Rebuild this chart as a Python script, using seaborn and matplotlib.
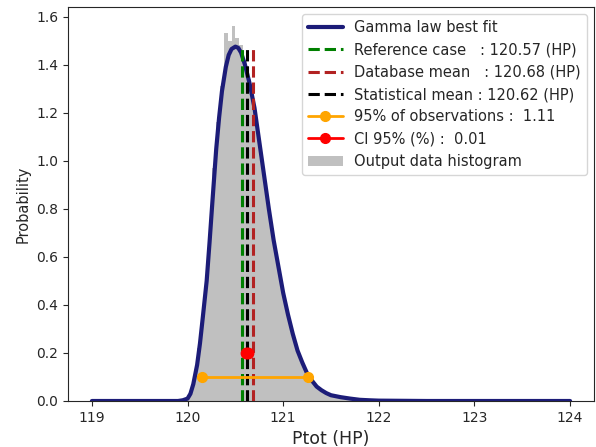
import numpy as np
import pandas as pd
import matplotlib
matplotlib.use("Agg")
import matplotlib.pyplot as plt
import seaborn as sns
from matplotlib.lines import Line2D
from matplotlib.patches import Patch

# ---- data ----
# gamma-law best fit curve (x in HP, probability density)
fit_x = [119.0, 119.5, 119.9, 119.95, 120.0, 120.03, 120.06, 120.1, 120.13, 120.16,
         120.2, 120.23, 120.26, 120.3, 120.33, 120.36, 120.4, 120.43, 120.46, 120.5,
         120.53, 120.56, 120.6, 120.65, 120.7, 120.75,
         120.8, 120.85, 120.9, 120.95, 121.0, 121.05, 121.1, 121.15, 121.2, 121.25,
         121.3, 121.35, 121.4, 121.45, 121.5, 121.6, 121.7, 121.8, 121.9, 122.0,
         122.5, 123.0, 124.0]
fit_p = [0.0, 0.0, 0.0, 0.003, 0.01, 0.03, 0.07, 0.15, 0.24, 0.35,
         0.50, 0.66, 0.83, 1.05, 1.18, 1.29, 1.39, 1.44, 1.465, 1.475,
         1.47, 1.45, 1.40, 1.32, 1.22, 1.08,
         0.94, 0.80, 0.67, 0.56, 0.45, 0.36, 0.28, 0.21, 0.16, 0.115,
         0.085, 0.06, 0.045, 0.033, 0.024, 0.016, 0.01, 0.005, 0.003, 0.0015,
         0.0, 0.0, 0.0]

# output data histogram (bin centres and densities)
hist_centers = [120.00, 120.04, 120.08, 120.12, 120.16, 120.20, 120.24, 120.28, 120.32, 120.36,
                120.40, 120.44, 120.48, 120.52, 120.56, 120.60, 120.64, 120.68, 120.72, 120.76,
                120.80, 120.84, 120.88, 120.92, 120.96, 121.00, 121.04, 121.08, 121.12, 121.16,
                121.20, 121.24, 121.28, 121.32, 121.36, 121.40, 121.44, 121.48, 121.52, 121.56,
                121.60, 121.64, 121.68, 121.72, 121.76, 121.80, 121.84, 121.88]
hist_density = [0.01, 0.04, 0.11, 0.22, 0.36, 0.52, 0.75, 0.97, 1.16, 1.31,
                1.53, 1.50, 1.56, 1.51, 1.48, 1.42, 1.34, 1.26, 1.17, 1.06,
                0.94, 0.83, 0.72, 0.62, 0.54, 0.45, 0.38, 0.31, 0.25, 0.20,
                0.16, 0.12, 0.095, 0.075, 0.058, 0.045, 0.036, 0.028, 0.022, 0.017,
                0.013, 0.010, 0.008, 0.006, 0.004, 0.003, 0.002, 0.001]
bin_width = 0.04

ref_case = 120.57
db_mean = 120.68
stat_mean = 120.62
obs95 = [120.15, 121.26]
obs95_y = 0.1
ci_x = [120.61, 120.63]
ci_y = 0.2
vline_top = 1.475

labels = ["Gamma law best fit",
          "Reference case   : 120.57 (HP)",
          "Database mean   : 120.68 (HP)",
          "Statistical mean : 120.62 (HP)",
          "95% of observations :  1.11",
          "CI 95% (%) :  0.01",
          "Output data histogram"]

# ---- figure ----
sns.set_style("ticks")
plt.rcParams['font.family'] = ['DejaVu Sans']
fig = plt.figure(figsize=(5.96, 4.47), dpi=100)
ax = fig.add_axes([68/596, 46/447, (594-68)/596, (401-7)/447])

edges = [c - bin_width/2 for c in hist_centers] + [hist_centers[-1] + bin_width/2]
hdf = pd.DataFrame({"x": hist_centers, "w": hist_density})
sns.histplot(data=hdf, x="x", weights="w", bins=edges, stat="count",
             color="silver", alpha=1.0, linewidth=0, ax=ax)

fdf = pd.DataFrame({"x": fit_x, "p": fit_p})
sns.lineplot(data=fdf, x="x", y="p", color="#1c1c78", lw=3.0, ax=ax,
             estimator=None, sort=False, zorder=3)

ax.plot([ref_case, ref_case], [0, vline_top], color="green", ls="--", lw=2.2, zorder=4)
ax.plot([db_mean, db_mean], [0, vline_top], color="firebrick", ls="--", lw=2.2, zorder=4)
ax.plot([stat_mean, stat_mean], [0, vline_top], color="black", ls="--", lw=2.2, zorder=4)

ax.plot(obs95, [obs95_y, obs95_y], color="orange", lw=2, marker="o", ms=7, zorder=5)
ax.plot(ci_x, [ci_y, ci_y], color="red", lw=2, marker="o", ms=7.5, zorder=5)

ax.set_xlim(118.75, 124.25)
ax.set_ylim(0, 1.64)
ax.set_xticks([119, 120, 121, 122, 123, 124])
ax.set_yticks([0.0, 0.2, 0.4, 0.6, 0.8, 1.0, 1.2, 1.4, 1.6])
ax.set_yticklabels([f"{v:.1f}" for v in ax.get_yticks()])
ax.tick_params(labelsize=10, colors="#262626")
ax.set_xlabel("Ptot (HP)", fontsize=12.5)
ax.set_ylabel("Probability", fontsize=10.5)

handles = [Line2D([], [], color="#1c1c78", lw=3.0),
           Line2D([], [], color="green", ls="--", lw=2.2),
           Line2D([], [], color="firebrick", ls="--", lw=2.2),
           Line2D([], [], color="black", ls="--", lw=2.2),
           Line2D([], [], color="orange", lw=2, marker="o", ms=7),
           Line2D([], [], color="red", lw=2, marker="o", ms=7),
           Patch(facecolor="silver", edgecolor="none")]
ax.legend(handles, labels, loc="upper right", fontsize=10.5, handlelength=2.4,
          labelspacing=0.5, frameon=True)

fig.savefig("out.png", dpi=100)
